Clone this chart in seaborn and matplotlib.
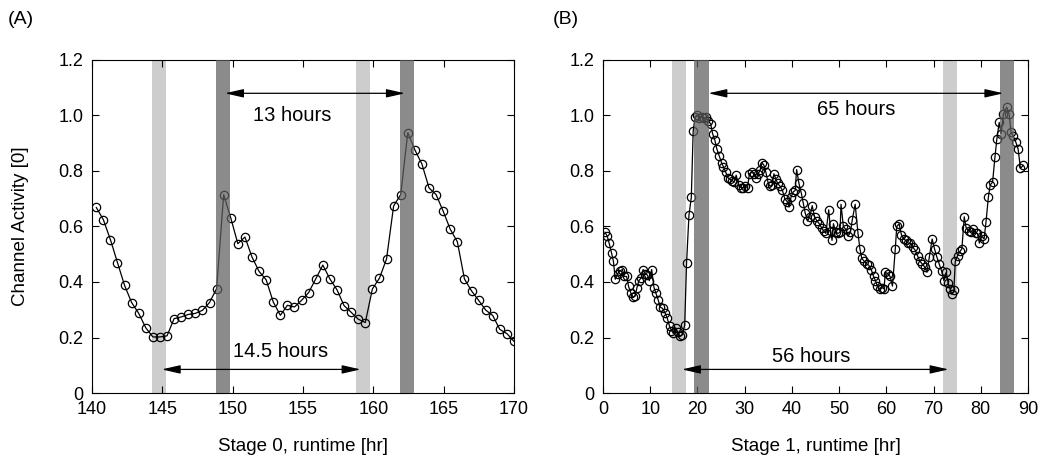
import numpy as np
import pandas as pd
import matplotlib
matplotlib.use("Agg")
import matplotlib.pyplot as plt
import seaborn as sns

# ---------------- data ----------------
# Panel A: stage 0, half-hourly samples
a_hours = np.linspace(140.3, 170.0, 60)
a_activity = [0.669, 0.625, 0.553, 0.470, 0.388, 0.326, 0.287, 0.235, 0.202, 0.202,
              0.206, 0.268, 0.274, 0.283, 0.287, 0.298, 0.326, 0.376, 0.715, 0.631,
              0.538, 0.562, 0.490, 0.438, 0.408, 0.328, 0.280, 0.316, 0.310, 0.334,
              0.362, 0.411, 0.461, 0.411, 0.372, 0.315, 0.291, 0.266, 0.254, 0.375,
              0.414, 0.483, 0.674, 0.715, 0.938, 0.876, 0.825, 0.739, 0.715, 0.655,
              0.590, 0.545, 0.411, 0.368, 0.334, 0.299, 0.279, 0.229, 0.214, 0.186]

# Panel B: stage 1
b_hours = [0.4, 0.9, 1.3, 1.8, 2.2, 2.6, 3.1, 3.6, 4.1, 4.5, 5.0, 5.4, 5.9, 6.4, 6.8,
           7.2, 7.6, 8.1, 8.5, 8.9, 9.4, 9.8, 10.3, 10.8, 11.2, 11.7, 12.1, 12.6, 13.1,
           13.6, 14.1, 14.5, 14.9, 15.4, 15.8, 16.3, 16.8, 17.3, 17.7, 18.2, 18.7, 19.1,
           19.5, 20.0, 20.4, 20.9, 21.4, 21.8, 22.3, 22.8, 23.2, 23.7, 24.1, 24.6, 25.1,
           25.5, 26.0, 26.5, 26.9, 27.4, 27.8, 28.2, 28.7, 29.2, 29.7, 30.1, 30.6, 31.0,
           31.5, 32.0, 32.4, 32.9, 33.3, 33.7, 34.1, 34.5, 35.0, 35.4, 35.8, 36.2, 36.6,
           37.0, 37.5, 38.0, 38.5, 39.0, 39.4, 39.8, 40.3, 40.7, 41.0, 41.5, 42.0, 42.4,
           42.8, 43.3, 43.8, 44.3, 44.8, 45.3, 45.8, 46.3, 46.7, 47.2, 47.8, 48.2, 48.5,
           48.8, 49.3, 49.8, 50.2, 50.4, 50.9, 51.4, 51.9, 52.4, 52.8, 53.4, 54.0, 54.4,
           54.8, 55.3, 55.8, 56.3, 56.8, 57.3, 57.7, 58.1, 58.6, 59.1, 59.5, 59.8, 60.3,
           60.8, 61.3, 61.9, 62.2, 62.7, 63.2, 63.7, 64.1, 64.6, 65.1, 65.6, 66.1, 66.6,
           67.1, 67.6, 68.1, 68.6, 69.1, 69.7, 70.2, 70.7, 71.2, 71.7, 72.2, 72.7, 73.1,
           73.5, 73.9, 74.3, 74.6, 75.1, 75.6, 76.0, 76.5, 76.9, 77.4, 77.9, 78.4, 78.9,
           79.3, 79.7, 80.2, 80.7, 81.1, 81.6, 82.0, 82.5, 83.0, 83.4, 83.9, 84.3, 84.8,
           85.5, 86.0, 86.4, 86.9, 87.4, 87.9, 88.4, 89.0]
b_activity = [0.58, 0.565, 0.54, 0.505, 0.475, 0.41, 0.43, 0.44, 0.445, 0.42, 0.42, 0.385,
              0.36, 0.345, 0.35, 0.38, 0.405, 0.415, 0.445, 0.43, 0.425, 0.405, 0.445, 0.38,
              0.36, 0.335, 0.31, 0.305, 0.29, 0.27, 0.24, 0.225, 0.215, 0.235, 0.22, 0.205,
              0.21, 0.245, 0.47, 0.64, 0.705, 0.945, 0.995, 1.0, 0.99, 0.995, 0.99, 0.995,
              0.98, 0.97, 0.935, 0.91, 0.88, 0.855, 0.83, 0.815, 0.795, 0.775, 0.77, 0.765,
              0.76, 0.785, 0.75, 0.74, 0.74, 0.745, 0.74, 0.79, 0.795, 0.79, 0.775, 0.79,
              0.805, 0.83, 0.82, 0.795, 0.755, 0.745, 0.75, 0.79, 0.77, 0.755, 0.745, 0.73,
              0.70, 0.69, 0.67, 0.705, 0.725, 0.73, 0.805, 0.755, 0.72, 0.685, 0.65, 0.62,
              0.635, 0.675, 0.635, 0.62, 0.61, 0.595, 0.585, 0.575, 0.66, 0.585, 0.55, 0.61,
              0.58, 0.575, 0.58, 0.68, 0.60, 0.59, 0.565, 0.58, 0.625, 0.68, 0.575, 0.52,
              0.485, 0.475, 0.465, 0.46, 0.445, 0.42, 0.405, 0.385, 0.375, 0.38, 0.375, 0.435,
              0.43, 0.42, 0.385, 0.52, 0.60, 0.61, 0.57, 0.555, 0.55, 0.54, 0.54, 0.525,
              0.515, 0.495, 0.475, 0.465, 0.455, 0.435, 0.49, 0.555, 0.52, 0.49, 0.465, 0.44,
              0.405, 0.435, 0.395, 0.375, 0.355, 0.37, 0.475, 0.495, 0.51, 0.52, 0.635, 0.595,
              0.585, 0.58, 0.59, 0.575, 0.575, 0.54, 0.565, 0.555, 0.615, 0.705, 0.75, 0.76,
              0.85, 0.915, 0.975, 0.935, 1.005, 1.03, 1.005, 0.94, 0.925, 0.905, 0.88, 0.81,
              0.82]

# shaded windows (start hour, end hour)
a_light_bands = [(144.25, 145.25), (158.75, 159.75)]
a_dark_bands = [(148.8, 149.8), (161.9, 162.9)]
b_light_bands = [(14.6, 17.6), (72.0, 75.0)]
b_dark_bands = [(19.3, 22.4), (84.0, 87.1)]

# interval arrows: (start, end, y, label, label_x, label_y)
a_arrows = [(149.45, 162.25, 1.08, "13 hours", 154.2, 1.0),
            (144.95, 159.1, 0.085, "14.5 hours", 153.4, 0.148)]
b_arrows = [(22.3, 84.8, 1.08, "65 hours", 53.6, 1.02),
            (16.7, 73.2, 0.085, "56 hours", 44.1, 0.133)]

a_xticks = [140, 145, 150, 155, 160, 165, 170]
b_xticks = [0, 10, 20, 30, 40, 50, 60, 70, 80, 90]
y_ticks = [0, 0.2, 0.4, 0.6, 0.8, 1.0, 1.2]
y_ticklabels = ["0", "0.2", "0.4", "0.6", "0.8", "1.0", "1.2"]

panel_titles = ["(A)", "(B)"]
x_labels = ["Stage 0, runtime [hr]", "Stage 1, runtime [hr]"]
y_label = "Channel Activity [0]"

# ---------------- style ----------------
sns.set_style("ticks")
plt.rcParams["font.family"] = ["Liberation Sans", "DejaVu Sans"]
for key in ["text.color", "axes.labelcolor", "xtick.color", "ytick.color",
            "axes.edgecolor"]:
    plt.rcParams[key] = "black"

fig = plt.figure(figsize=(10.4, 4.61), dpi=100)
ax_a = fig.add_axes([92 / 1040, 68 / 461, 422 / 1040, 333 / 461])
ax_b = fig.add_axes([603 / 1040, 68 / 461, 425 / 1040, 333 / 461])

df_a = pd.DataFrame({"hour": a_hours, "activity": a_activity})
df_b = pd.DataFrame({"hour": b_hours, "activity": b_activity})

LIGHT = "#cdcdcd"
DARK = "#5f5f5f"

def draw(ax, df, light, dark, arrows, xticks, xlim, xlabel, title, xtitle):
    for s, e in light:
        ax.axvspan(s, e, color=LIGHT, zorder=0, lw=0)
    sns.lineplot(data=df, x="hour", y="activity", ax=ax, estimator=None, sort=False,
                 color="black", lw=0.9, marker="o", markersize=6,
                 markerfacecolor="none", markeredgecolor="black", markeredgewidth=0.9,
                 zorder=2)
    for s, e in dark:
        ax.axvspan(s, e, color=DARK, alpha=0.72, zorder=3, lw=0)
    for s, e, y, lab, lx, ly in arrows:
        ax.annotate("", xy=(e, y), xytext=(s, y),
                    arrowprops=dict(arrowstyle="<|-|>,head_length=0.75,head_width=0.17",
                                    color="black", lw=0.9, shrinkA=0, shrinkB=0,
                                    mutation_scale=15), zorder=4)
        ax.text(lx, ly, lab, ha="center", va="center", fontsize=14.5, zorder=4)
    ax.set_xlim(*xlim)
    ax.set_ylim(0, 1.2)
    ax.set_xticks(xticks)
    ax.set_yticks(y_ticks)
    ax.set_yticklabels(y_ticklabels)
    ax.tick_params(direction="in", top=True, right=True, length=5, width=0.8,
                   labelsize=13, pad=6)
    for sp in ax.spines.values():
        sp.set_visible(True)
        sp.set_linewidth(0.8)
        sp.set_color("black")
    ax.set_xlabel(xlabel, fontsize=13.5, labelpad=14)
    ax.set_ylabel("")
    fig.text(xtitle, 1 - 20 / 461, title, fontsize=14, ha="left", va="center")

draw(ax_a, df_a, a_light_bands, a_dark_bands, a_arrows, a_xticks, (140, 170),
     x_labels[0], panel_titles[0], 8 / 1040)
draw(ax_b, df_b, b_light_bands, b_dark_bands, b_arrows, b_xticks, (0, 90),
     x_labels[1], panel_titles[1], 553 / 1040)
ax_a.set_ylabel(y_label, fontsize=13.5, labelpad=8)
ax_a.yaxis.set_label_coords(-(92 - 29) / 422, 0.5)

fig.savefig("out.png", dpi=100)
